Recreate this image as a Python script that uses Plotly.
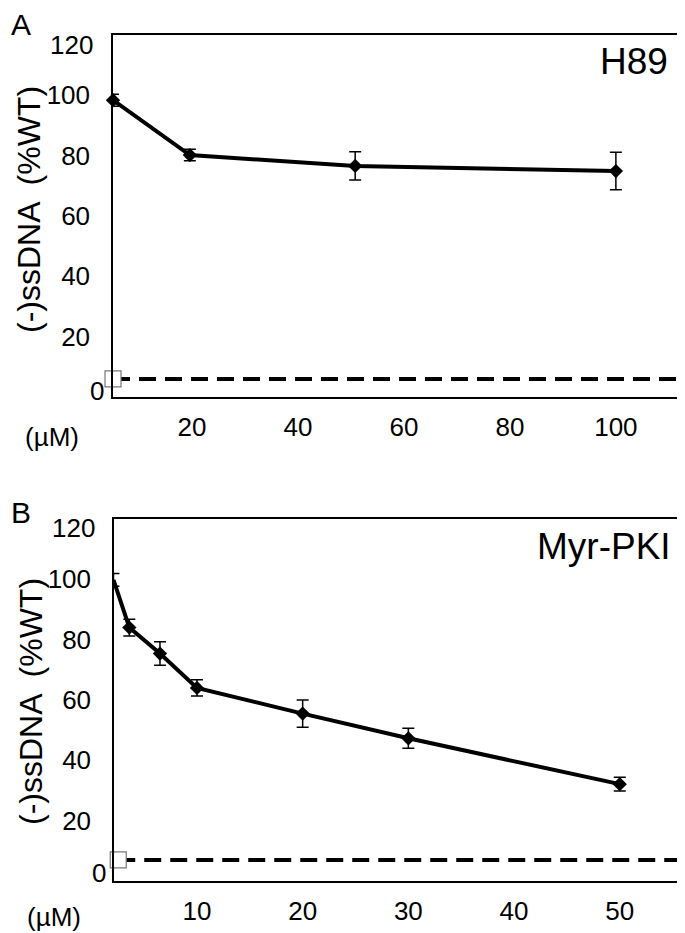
import plotly.graph_objects as go

# ---------------- data ----------------
# Panel A (H89): plotted x positions (the 0 µM point sits on the left axis)
a_x = [5.1, 19.6, 50.8, 100]
a_y = [98.4, 80.2, 76.6, 74.9]
a_err = [2.0, 1.9, 4.7, 6.2]
a_ctrl = 6.0
a_ticks = [20, 40, 60, 80, 100]

# Panel B (Myr-PKI)
b_x = [2.1, 3.6, 6.5, 10, 20, 30, 50]
b_y = [99.8, 84.0, 75.4, 64.0, 55.5, 47.3, 32.1]
b_err = [2.1, 2.8, 3.9, 2.7, 4.5, 3.3, 2.3]
b_ctrl = 7.0
b_ticks = [10, 20, 30, 40, 50]

y_ticks = [20, 40, 60, 80, 100]

# the page body has an 8px margin, so the figure is drawn 8px in from the corner
OFF = 8
W, H = 685 - OFF, 933 - OFF
FONT = "Liberation Sans, Arial, Helvetica, sans-serif"

def px(xp):
    return (xp - OFF) / W

def py(yp):
    return 1 - (yp - OFF) / H

a_xrange = [5.1, 112.1]
b_xrange = [2.15, 55.7]

fig = go.Figure()

def add_panel(xs, ys, errs, ctrl, xr, sq_x, xa, ya):
    # control dashed line
    fig.add_trace(go.Scatter(
        x=[sq_x, xr[1] - 0.002 * (xr[1] - xr[0])], y=[ctrl, ctrl], mode="lines",
        line=dict(color="black", width=4, dash="17px,9px"),
        xaxis=xa, yaxis=ya, showlegend=False, hoverinfo="skip"))
    # control open square
    fig.add_trace(go.Scatter(
        x=[sq_x], y=[ctrl], mode="markers",
        marker=dict(symbol="square", size=16, color="white",
                    line=dict(color="#777777", width=1.2)),
        xaxis=xa, yaxis=ya, showlegend=False, cliponaxis=False))
    # dose-response line
    fig.add_trace(go.Scatter(
        x=xs, y=ys, mode="lines+markers",
        line=dict(color="black", width=4),
        marker=dict(symbol="diamond", size=11, color="black"),
        error_y=dict(type="data", array=errs, visible=True, color="black",
                     thickness=1.5, width=6),
        xaxis=xa, yaxis=ya, showlegend=False, cliponaxis=False))

add_panel(a_x, a_y, a_err, a_ctrl, a_xrange, a_xrange[0], "x", "y")
add_panel(b_x, b_y, b_err, b_ctrl, b_xrange, 2.55, "x2", "y2")

axis_common = dict(showline=True, mirror=True, linecolor="black", linewidth=1.5,
                   showgrid=False, zeroline=False, ticks="",
                   tickfont=dict(family=FONT, size=26, color="black"))

fig.update_layout(
    width=W, height=H, margin=dict(l=0, r=0, t=0, b=0),
    paper_bgcolor="white", plot_bgcolor="white",
    font=dict(family=FONT, color="black"),
    xaxis=dict(domain=[px(113), px(680)], range=a_xrange, tickvals=a_ticks,
               anchor="y", ticklabelstandoff=6, **axis_common),
    yaxis=dict(domain=[py(397), py(35)], range=[0, 120], tickvals=y_ticks,
               anchor="x", ticklabelstandoff=16, **axis_common),
    xaxis2=dict(domain=[px(114), px(680)], range=b_xrange, tickvals=b_ticks,
                anchor="y2", ticklabelstandoff=6, **axis_common),
    yaxis2=dict(domain=[py(881), py(519)], range=[0, 120], tickvals=y_ticks,
                anchor="x2", ticklabelstandoff=16, **axis_common),
)

ann = []
def txt(x, y, s, size, xanchor="center", yanchor="middle", angle=0):
    ann.append(dict(x=px(x), y=py(y), xref="paper", yref="paper", text=s,
                    showarrow=False, xanchor=xanchor, yanchor=yanchor,
                    textangle=angle, font=dict(family=FONT, size=size, color="black")))

# panel letters
txt(9, 24, "A", 30, xanchor="left")
txt(9, 512, "B", 30, xanchor="left")
# compound labels
txt(670, 62, "H89", 37, xanchor="right")
txt(673, 546, "Myr-PKI", 37, xanchor="right")
# y titles
txt(29, 210, "(-)ssDNA  (%WT)", 32, angle=-90)
txt(31, 702, "(-)ssDNA  (%WT)", 32, angle=-90)
# corner labels 0 / 120 and unit
txt(95, 45, "120", 26, xanchor="right")
txt(97, 528, "120", 26, xanchor="right")
txt(97, 391, "0", 26)
txt(99, 873, "0", 26)
txt(52, 437, "(µM)", 26)
txt(54, 917, "(µM)", 26)

fig.update_layout(annotations=ann)
fig.write_html("out.html")
